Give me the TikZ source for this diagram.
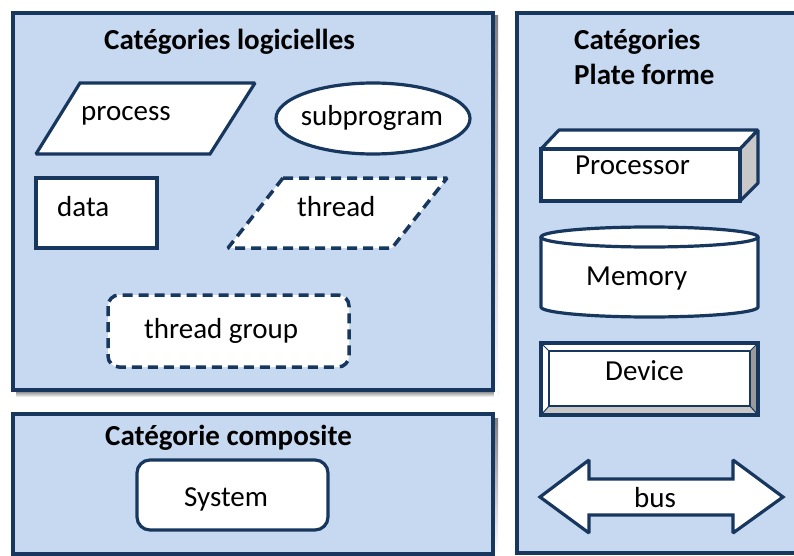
\documentclass[tikz,border=0pt]{standalone}
\usepackage{fontspec}
\setmainfont{Carlito}
\definecolor{navy}{HTML}{17375E}
\definecolor{panel}{HTML}{C6D9F0}
\definecolor{shade}{HTML}{BDB5CC}
\definecolor{sidegray}{HTML}{C8C8C8}
\definecolor{darkgray}{HTML}{9A9A9A}
\tikzset{
  panelbox/.style={draw=navy, line width=3.5pt, fill=panel},
  shapebox/.style={draw=navy, line width=3.2pt, fill=white, line join=miter, miter limit=2},
  dashbox/.style={shapebox, line width=3.5pt, dash pattern=on 10pt off 6pt},
  lbl/.style={inner sep=0pt, anchor=base west, font=\fontsize{29}{34}\selectfont},
  ttl/.style={lbl, font=\fontsize{29}{34}\selectfont\bfseries},
}
\begin{document}
\begin{tikzpicture}[x=1pt,y=-1pt]
\useasboundingbox (0,0) rectangle (794,556);
\fill[white] (0,0) rectangle (794,556);

% shadows of the two left panels
\fill[shade] (16,391) rectangle (498,397);
\fill[shade] (494,16) rectangle (498,397);
\fill[shade] (493,418) rectangle (498,554);

% software categories panel
\draw[panelbox] (13,13) rectangle (493,390);
\node[ttl] (tlog) at (104,50) {Catégories logicielles};

\draw[shapebox] (80,83) -- (255,83) -- (210,154) -- (36,154) -- cycle;
\node[lbl] (tproc) at (81,121) {process};

\draw[shapebox] (373,118.5) ellipse [x radius=97, y radius=35.5];
\node[lbl, anchor=base] (tsub) at (372,126) {subprogram};

\draw[shapebox] (36,178) rectangle (157,248);
\node[lbl] (tdata) at (57,216) {data};

\draw[dashbox] (283,178) -- (447,178) -- (392,248) -- (228,248) -- cycle;
\node[lbl] (tthr) at (297,216) {thread};

\draw[dashbox, rounded corners=11pt] (108,295) rectangle (349,367);
\node[lbl] (tgrp) at (144,338) {thread group};

% composite category panel
\draw[panelbox] (13,414) rectangle (493,554);
\node[ttl] (tcomp) at (105,445) {Catégorie composite};
\draw[shapebox, rounded corners=13pt] (137,460) rectangle (328,530);
\node[lbl] (tsys) at (184,506) {System};

% execution platform panel (runs off the right edge)
\fill[panel] (517,13) rectangle (794,553);
\draw[navy, line width=3.5pt] (794,13) -- (517,13) -- (517,553) -- (794,553);
\node[ttl] (tplat1) at (574,50) {Catégories};
\node[ttl] (tplat2) at (574,85) {Plate forme};

% processor box
\draw[shapebox, line join=bevel] (541,149) -- (559,130) -- (758,130) -- (740,149) -- cycle;
\draw[shapebox, line join=bevel, fill=sidegray] (740,149) -- (758,130) -- (758,183) -- (740,201) -- cycle;
\draw[shapebox] (541,149) rectangle (740,201);
\node[lbl] (tcpu) at (575,175) {Processor};

% memory cylinder
\draw[shapebox] (541,237) -- (541,307)
  arc[start angle=180, end angle=360, x radius=108.5pt, y radius=10pt]
  -- (758,237);
\draw[shapebox] (649.5,237) ellipse [x radius=108.5, y radius=10];
\node[lbl] (tmem) at (586,285) {Memory};

% device bevelled box
\fill[white] (541,343) rectangle (758,415);
\fill[darkgray] (758,343) -- (758,415) -- (750,406) -- (750,351) -- cycle;
\fill[sidegray] (541,415) -- (758,415) -- (750,406) -- (549,406) -- cycle;
\draw[navy, line width=1pt] (541,343) -- (549,351) (758,343) -- (750,351)
  (541,415) -- (549,406) (758,415) -- (750,406);
\draw[navy, line width=3.2pt] (541,343) rectangle (758,415);
\draw[navy, line width=2.6pt] (549,351) rectangle (750,406);
\node[lbl] (tdev) at (605,380) {Device};

% bus double arrow
\draw[shapebox] (540,497) -- (589,460) -- (589,479) -- (733,479) -- (733,460)
  -- (783,497) -- (733,533) -- (733,515) -- (589,515) -- (589,533) -- cycle;
\node[lbl] (tbus) at (634,507) {bus};
\end{tikzpicture}
\end{document}
